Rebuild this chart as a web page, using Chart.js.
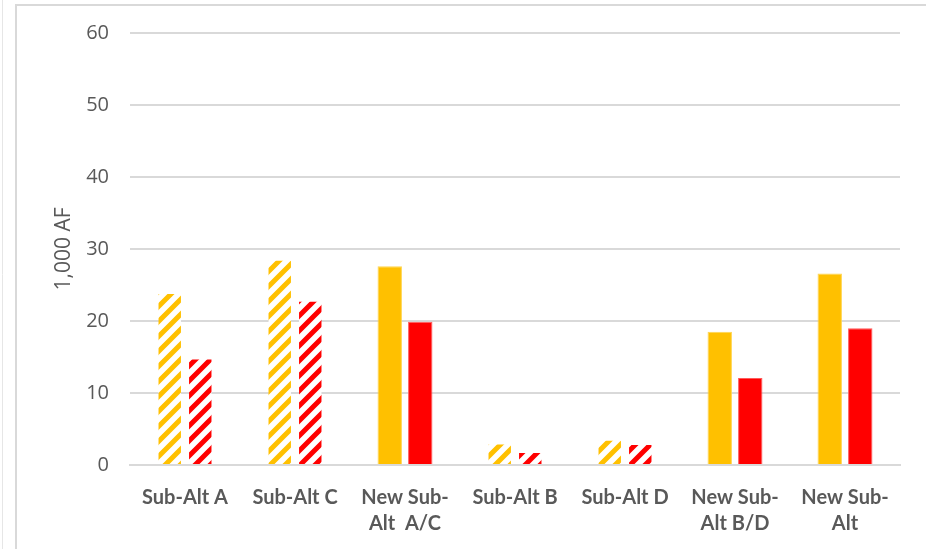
<!DOCTYPE html>
<html>
<head>
<meta charset="utf-8">
<script src="https://cdn.jsdelivr.net/npm/chart.js@4.4.1/dist/chart.umd.min.js"></script>
<style>
  html, body { margin: 0; padding: 0; background: #fff; }
  #wrap { width: 926px; height: 549px; position: relative; }
</style>
</head>
<body>
<div id="wrap"><canvas id="c" width="926" height="549"></canvas></div>
<script>
// Categories and values (thousand acre-feet)
const categories = [
  'Sub-Alt A',
  'Sub-Alt C',
  ['New Sub-', 'Alt  A/C'],
  'Sub-Alt B',
  'Sub-Alt D',
  ['New Sub-', 'Alt B/D'],
  ['New Sub-', 'Alt']
];
const goldValues = [23.9, 28.5, 27.6, 3.0, 3.5, 18.5, 26.6];
const redValues  = [14.8, 22.8, 19.9, 1.8, 2.9, 12.1, 19.0];
// Sub-alternatives drawn with a diagonal hatch
const hatched = [true, true, false, true, true, false, false];
const yTicks = [0, 10, 20, 30, 40, 50, 60];

const GOLD = '#FFC000';
const RED = '#FF0000';

function stripePattern(color) {
  const s = 15;
  const p = document.createElement('canvas');
  p.width = s; p.height = s;
  const g = p.getContext('2d');
  g.fillStyle = '#fff';
  g.fillRect(0, 0, s, s);
  g.strokeStyle = color;
  g.lineWidth = 5;
  g.lineCap = 'square';
  g.beginPath();
  g.moveTo(-s, 2 * s); g.lineTo(2 * s, -s);
  g.moveTo(-s, s); g.lineTo(s, -s);
  g.moveTo(0, 2 * s); g.lineTo(2 * s, 0);
  g.stroke();
  return document.getElementById('c').getContext('2d').createPattern(p, 'repeat');
}
const goldHatch = stripePattern(GOLD);
const redHatch = stripePattern(RED);

const frame = {
  id: 'frame',
  beforeDraw(chart) {
    const ctx = chart.ctx;
    ctx.save();
    ctx.fillStyle = '#fff';
    ctx.fillRect(0, 0, chart.width, chart.height);
    ctx.strokeStyle = '#d9d9d9';
    ctx.lineWidth = 2;
    ctx.beginPath();
    ctx.moveTo(16, chart.height); ctx.lineTo(16, 5); ctx.lineTo(chart.width, 5);
    ctx.stroke();
    ctx.lineWidth = 1;
    ctx.strokeStyle = '#e6e6e6';
    ctx.beginPath();
    ctx.moveTo(2.5, 0); ctx.lineTo(2.5, chart.height);
    ctx.stroke();
    ctx.restore();
  }
};

new Chart(document.getElementById('c'), {
  type: 'bar',
  data: {
    labels: categories,
    datasets: [
      {
        data: goldValues,
        backgroundColor: hatched.map(h => h ? goldHatch : GOLD),
        borderColor: hatched.map(h => h ? 'rgba(255,192,0,0)' : '#FFD54F'),
        borderWidth: 1,
        barPercentage: 0.8,
        categoryPercentage: 0.555
      },
      {
        data: redValues,
        backgroundColor: hatched.map(h => h ? redHatch : RED),
        borderColor: hatched.map(h => h ? 'rgba(255,0,0,0)' : '#FF5A5A'),
        borderWidth: 1,
        barPercentage: 0.8,
        categoryPercentage: 0.555
      }
    ]
  },
  options: {
    responsive: false,
    animation: false,
    devicePixelRatio: 1,
    layout: { padding: { top: 20, right: 26, bottom: 0, left: 0 } },
    plugins: { legend: { display: false }, tooltip: { enabled: false } },
    scales: {
      x: {
        grid: { display: false },
        border: { display: true, color: '#d9d9d9', width: 2 },
        ticks: {
          color: '#595959',
          font: { family: 'Lato', size: 20, weight: 'bold', lineHeight: '26px' },
          padding: 12,
          maxRotation: 0,
          autoSkip: false
        },
        afterFit(scale) { scale.height = 84; }
      },
      y: {
        min: 0,
        max: 60,
        afterBuildTicks(scale) { scale.ticks = yTicks.map(v => ({ value: v })); },
        grid: { color: '#d9d9d9', lineWidth: 2, drawTicks: false },
        border: { display: false },
        ticks: {
          color: '#595959',
          font: { family: 'Open Sans', size: 20 },
          padding: 21
        },
        title: {
          display: true,
          text: '1,000 AF',
          color: '#595959',
          font: { family: 'Open Sans', size: 21 },
          padding: { top: 51, bottom: 0 }
        },
        afterFit(scale) { scale.width = 130; }
      }
    }
  },
  plugins: [frame]
});
</script>
</body>
</html>
